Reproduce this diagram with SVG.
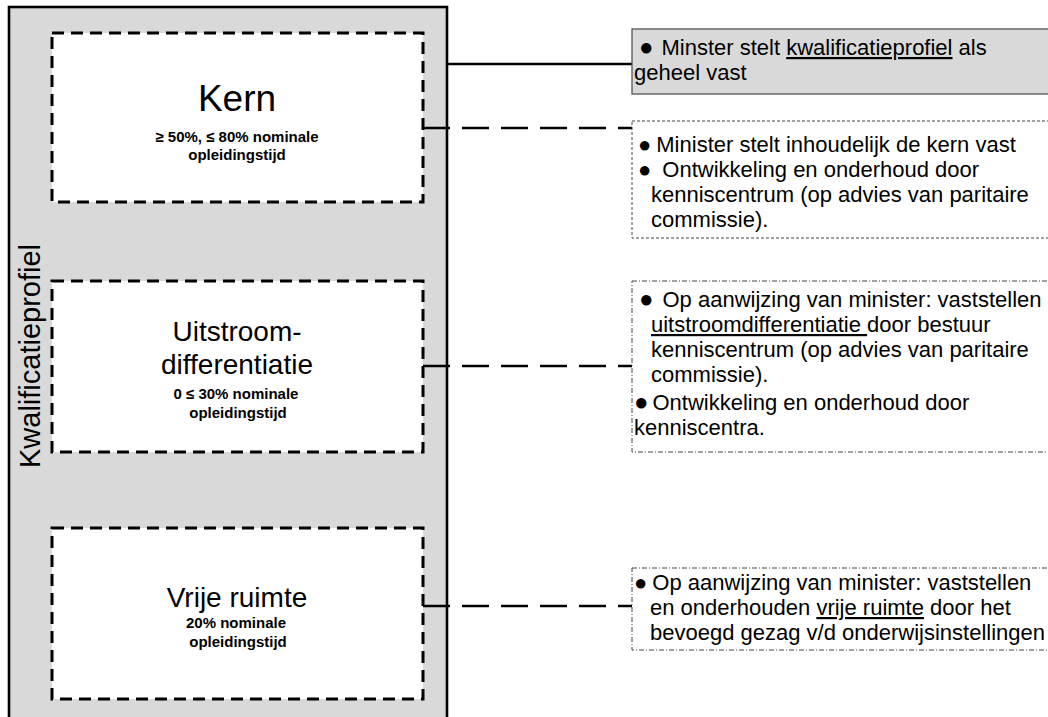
<svg xmlns="http://www.w3.org/2000/svg" width="1048" height="717" viewBox="0 0 1048 717">
<style>
text{font-family:"Liberation Sans",Arial,sans-serif;fill:#000}
.node{fill:#fff;stroke:#000;stroke-width:3;stroke-dasharray:12 7}
.big{font-size:37px;text-anchor:middle}
.mid{font-size:28px;text-anchor:middle}
.sub{font-size:15px;font-weight:bold;text-anchor:middle}
.note{font-size:22px}
.bul{font-size:24px}
.conn{stroke:#000;stroke-width:2.6;fill:none}
.dconn{stroke-dasharray:27 12}
.boxdash{fill:#fff;stroke:#444;stroke-width:1;stroke-dasharray:3 2}
.boxdot{fill:#fff;stroke:#444;stroke-width:1;stroke-dasharray:5 2 1 2}
.u{text-decoration:underline}
</style>
<g id="kwalificatieprofiel">
<rect x="9" y="7" width="438" height="730" fill="#d9d9d9" stroke="#000" stroke-width="2.6"/>
<text transform="translate(40,356) rotate(-90)" font-size="29" text-anchor="middle">Kwalificatieprofiel</text>
</g>
<g id="kern">
<rect class="node" x="52" y="33" width="371" height="169"/>
<text class="big" x="237" y="111">Kern</text>
<text class="sub" x="237" y="142">≥ 50%, ≤ 80% nominale</text>
<text class="sub" x="237" y="160">opleidingstijd</text>
</g>
<g id="uitstroom">
<rect class="node" x="52" y="281" width="371" height="171"/>
<text class="mid" x="237" y="341">Uitstroom-</text>
<text class="mid" x="237" y="374">differentiatie</text>
<text class="sub" x="236" y="399">0 ≤ 30% nominale</text>
<text class="sub" x="238" y="418">opleidingstijd</text>
</g>
<g id="vrije">
<rect class="node" x="52" y="528" width="371" height="171"/>
<text class="mid" x="237" y="607" font-size="30">Vrije ruimte</text>
<text class="sub" x="236" y="628">20% nominale</text>
<text class="sub" x="238" y="647">opleidingstijd</text>
</g>
<g id="connectors">
<line class="conn" x1="447" y1="64" x2="632" y2="64"/>
<line class="conn dconn" x1="423" y1="128" x2="632" y2="128"/>
<line class="conn dconn" x1="423" y1="366" x2="632" y2="366"/>
<line class="conn dconn" x1="423" y1="606" x2="632" y2="606"/>
</g>
<g id="note-profiel">
<rect x="632" y="29" width="430" height="65" fill="#d9d9d9" stroke="#555" stroke-width="1.3"/>
<text class="note" x="639" y="55"><tspan class="bul">●</tspan><tspan dx="8">Minster stelt </tspan><tspan class="u">kwalificatieprofiel</tspan> als</text>
<text class="note" x="634" y="80">geheel vast</text>
</g>
<g id="note-kern">
<rect class="boxdash" x="632" y="121" width="430" height="117"/>
<text class="note" x="638" y="152">●<tspan dx="5">Minister stelt inhoudelijk de kern vast</tspan></text>
<text class="note" x="638" y="177">●<tspan dx="11">Ontwikkeling en onderhoud door</tspan></text>
<text class="note" x="651" y="202">kenniscentrum (op advies van paritaire</text>
<text class="note" x="651" y="227">commissie).</text>
</g>
<g id="note-uitstroom">
<rect class="boxdot" x="632" y="281" width="430" height="171"/>
<text class="note" x="639" y="307"><tspan class="bul">●</tspan><tspan dx="9">Op aanwijzing van minister: vaststellen</tspan></text>
<text class="note" x="651" y="332"><tspan class="u">uitstroomdifferentiatie </tspan>door bestuur</text>
<text class="note" x="651" y="357">kenniscentrum (op advies van paritaire</text>
<text class="note" x="651" y="382">commissie).</text>
<text class="note" x="634" y="410"><tspan class="bul">●</tspan><tspan dx="4">Ontwikkeling en onderhoud door</tspan></text>
<text class="note" x="634" y="435">kenniscentra.</text>
</g>
<g id="note-vrije">
<rect class="boxdot" x="632" y="568" width="430" height="82"/>
<text class="note" x="634" y="590">●<tspan dx="5">Op aanwijzing van minister: vaststellen</tspan></text>
<text class="note" x="650" y="615">en onderhouden <tspan class="u">vrije ruimte</tspan> door het</text>
<text class="note" x="650" y="640">bevoegd gezag v/d onderwijsinstellingen</text>
</g>
</svg>
